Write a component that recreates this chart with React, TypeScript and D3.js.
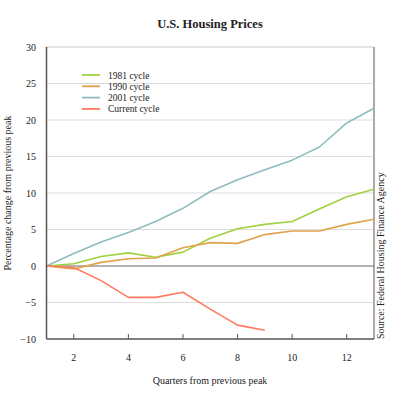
import React from "react";
import * as d3 from "d3";

const quarters = [1, 2, 3, 4, 5, 6, 7, 8, 9, 10, 11, 12, 13];
const cycle1981 = [0, 0.3, 1.3, 1.8, 1.2, 1.9, 3.8, 5.1, 5.7, 6.1, 7.8, 9.5, 10.5];
const cycle1990 = [0, -0.4, 0.5, 1.0, 1.1, 2.5, 3.2, 3.1, 4.3, 4.8, 4.8, 5.7, 6.4];
const cycle2001 = [0, 1.7, 3.3, 4.6, 6.1, 7.9, 10.2, 11.8, 13.2, 14.5, 16.3, 19.6, 21.6];
const cycleCurrent = [0, -0.2, -2.0, -4.3, -4.3, -3.6, -5.9, -8.1, -8.8];
const seriesNames = ["1981 cycle", "1990 cycle", "2001 cycle", "Current cycle"];
const seriesColors = ["#9ed23e", "#e0a24a", "#8dbdc0", "#ff7a5e"];
const xTicks = [2, 4, 6, 8, 10, 12];
const yTicks = [-10, -5, 0, 5, 10, 15, 20, 25, 30];

export default function App() {
  const W = 398, H = 398;
  const left = 46.5, right = 374, top = 47, bottom = 339;
  const x = d3.scaleLinear().domain([1, 13]).range([left, right]);
  const y = d3.scaleLinear().domain([-10, 30]).range([bottom, top]);
  const line = d3.line<number>().x((_, i) => x(quarters[i])).y((d) => y(d));
  const allSeries = [cycle1981, cycle1990, cycle2001, cycleCurrent];
  const font = "'Liberation Serif', 'DejaVu Serif', serif";
  return (
    <svg width={W} height={H} style={{ position: "absolute", left: 0, top: 0 }} fontFamily={font}>
      <rect width={W} height={H} fill="#fff" />
      <text x={210} y={28} textAnchor="middle" fontSize={12.5} fontWeight="bold" fill="#222">U.S. Housing Prices</text>
      {yTicks.filter((t) => t !== 0 && t !== -10 && t !== 30).map((t) => (
        <line key={t} x1={left} x2={right} y1={y(t)} y2={y(t)} stroke="#ddd" strokeWidth={1} />
      ))}
      <line x1={left} x2={right} y1={top} y2={top} stroke="#c8c8c8" strokeWidth={1} />
      <line x1={right} x2={right} y1={top} y2={bottom} stroke="#aaa" strokeWidth={2} />
      <line x1={left} x2={right} y1={y(0)} y2={y(0)} stroke="#666" strokeWidth={1} />
      {yTicks.map((t) => (
        <text key={t} x={36} y={y(t) + 3.5} textAnchor="end" fontSize={10} fill="#222">{t < 0 ? "\u2212" + Math.abs(t) : t}</text>
      ))}
      {xTicks.map((t) => (
        <g key={t}>
          <line x1={x(t)} x2={x(t)} y1={bottom} y2={bottom - 5} stroke="#555" strokeWidth={1} />
          <text x={x(t)} y={361} textAnchor="middle" fontSize={10} fill="#222">{t}</text>
        </g>
      ))}
      {allSeries.map((s, i) => (
        <path key={i} d={line(s) || ""} fill="none" stroke={seriesColors[i]} strokeWidth={1.6} strokeLinejoin="round" />
      ))}
      <line x1={left} x2={left} y1={top} y2={bottom} stroke="#555" strokeWidth={1.5} />
      <line x1={left} x2={right} y1={bottom} y2={bottom} stroke="#555" strokeWidth={1.5} />
      {seriesNames.map((n, i) => (
        <g key={n}>
          <line x1={82} x2={100} y1={75 + i * 11.3} y2={75 + i * 11.3} stroke={seriesColors[i]} strokeWidth={1.8} />
          <text x={108} y={78.5 + i * 11.3} fontSize={9.5} fill="#222">{n}</text>
        </g>
      ))}
      <text x={210} y={384} textAnchor="middle" fontSize={10} fill="#222">Quarters from previous peak</text>
      <text transform={`translate(11,${(top + bottom) / 2}) rotate(-90)`} textAnchor="middle" fontSize={10} fill="#222">Percentage change from previous peak</text>
      <text transform={`translate(384,${bottom}) rotate(-90)`} textAnchor="start" fontSize={10} fill="#222">Source: Federal Housing Finance Agency</text>
    </svg>
  );
}
